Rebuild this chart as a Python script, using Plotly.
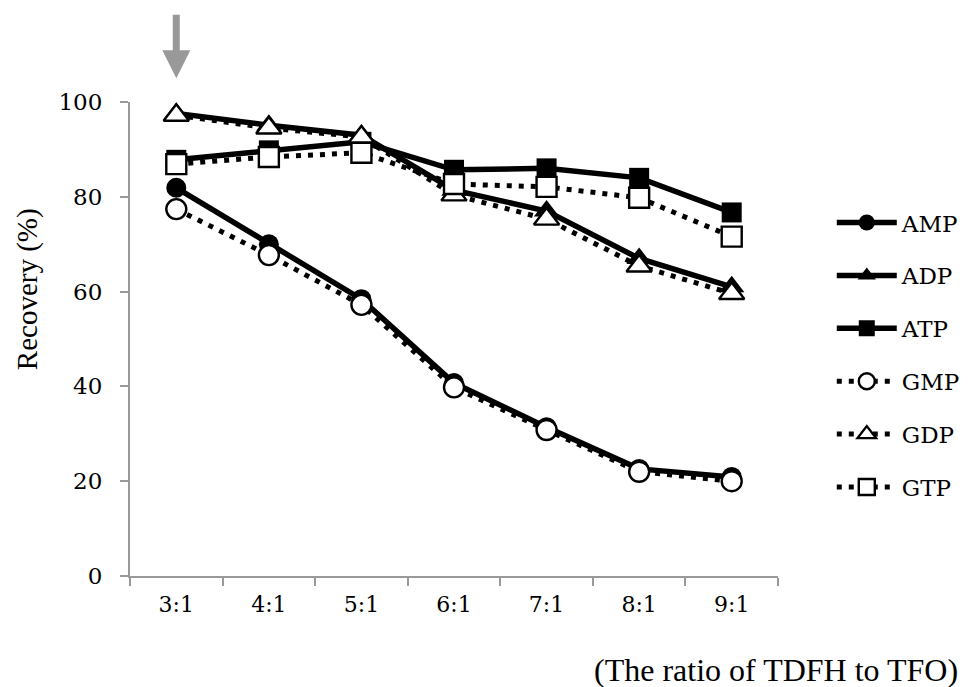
import plotly.graph_objects as go

# TDFH:TFO ratios tested
ratios = ["3:1", "4:1", "5:1", "6:1", "7:1", "8:1", "9:1"]

# Recovery (%) of each nucleotide
amp = [81.9, 70.0, 58.4, 40.7, 31.4, 22.6, 20.9]
adp = [97.6, 95.1, 93.0, 81.4, 77.0, 67.0, 61.0]
atp = [87.8, 89.8, 91.6, 85.7, 86.0, 84.0, 76.7]
gmp = [77.4, 67.7, 57.2, 39.8, 30.8, 22.0, 20.0]
gdp = [97.2, 94.5, 92.6, 80.4, 75.3, 65.4, 59.6]
gtp = [86.9, 88.4, 89.3, 82.7, 82.1, 79.8, 71.6]

series = [
    ("AMP", amp, "circle", "solid"),
    ("ADP", adp, "triangle-up", "solid"),
    ("ATP", atp, "square", "solid"),
    ("GMP", gmp, "circle", "dot"),
    ("GDP", gdp, "triangle-up", "dot"),
    ("GTP", gtp, "square", "dot"),
]

NUM_FONT = "DejaVu Serif"
TITLE_FONT = "Liberation Serif"

fig = go.Figure()
for name, vals, sym, dash in series:
    filled = dash == "solid"
    fig.add_trace(go.Scatter(
        x=ratios, y=vals, name=name, mode="lines+markers",
        legendgroup=name,
        line=dict(color="black", width=5.5 if filled else 5,
                  dash="solid" if filled else "5px,7px"),
        marker=dict(
            symbol=sym, size=20 if sym != "triangle-up" else 22,
            color="black" if filled else "white",
            line=dict(color="black", width=0 if filled else 2.4),
        ),
    ))

fig.update_layout(
    width=968, height=687,
    margin=dict(l=130, r=190, t=102, b=111, autoexpand=False),
    plot_bgcolor="white", paper_bgcolor="white",
    font=dict(family=NUM_FONT, size=22, color="black"),
    showlegend=True,
    legend=dict(
        x=1.083, y=0.791, xanchor="left", yanchor="top",
        traceorder="grouped", tracegroupgap=20,
        font=dict(family=NUM_FONT, size=23),
        itemwidth=60,
    ),
    xaxis=dict(
        type="category", showgrid=False, zeroline=False,
        showline=True, linecolor="#999999", linewidth=2,
        ticks="outside", tickson="boundaries", ticklen=8,
        tickcolor="#999999", tickwidth=2,
        tickfont=dict(family=NUM_FONT, size=22),
        ticklabelstandoff=8,
        range=[-0.5, 6.5],
    ),
    yaxis=dict(
        range=[0, 100], dtick=20, showgrid=False, zeroline=False,
        showline=True, linecolor="#999999", linewidth=2,
        ticks="outside", ticklen=8, tickcolor="#999999", tickwidth=2,
        tickfont=dict(family=NUM_FONT, size=23),
        ticklabelstandoff=13,
    ),
    annotations=[
        dict(
            text="Recovery (%)", xref="paper", yref="paper",
            x=-0.159, y=0.605, xanchor="center", yanchor="middle",
            textangle=-90, showarrow=False,
            font=dict(family=TITLE_FONT, size=29),
        ),
        dict(
            text="(The ratio of TDFH to TFO)", xref="paper", yref="paper",
            x=1.281, y=-0.199, xanchor="right", yanchor="middle", showarrow=False,
            font=dict(family=TITLE_FONT, size=32),
        ),
        dict(
            x="3:1", y=1.05, xref="x", yref="paper", ax=0, ay=-65,
            showarrow=True, arrowhead=2, arrowsize=0.8, arrowwidth=7,
            arrowcolor="#999999", text="",
        ),
    ],
)

fig.write_html("out.html")
